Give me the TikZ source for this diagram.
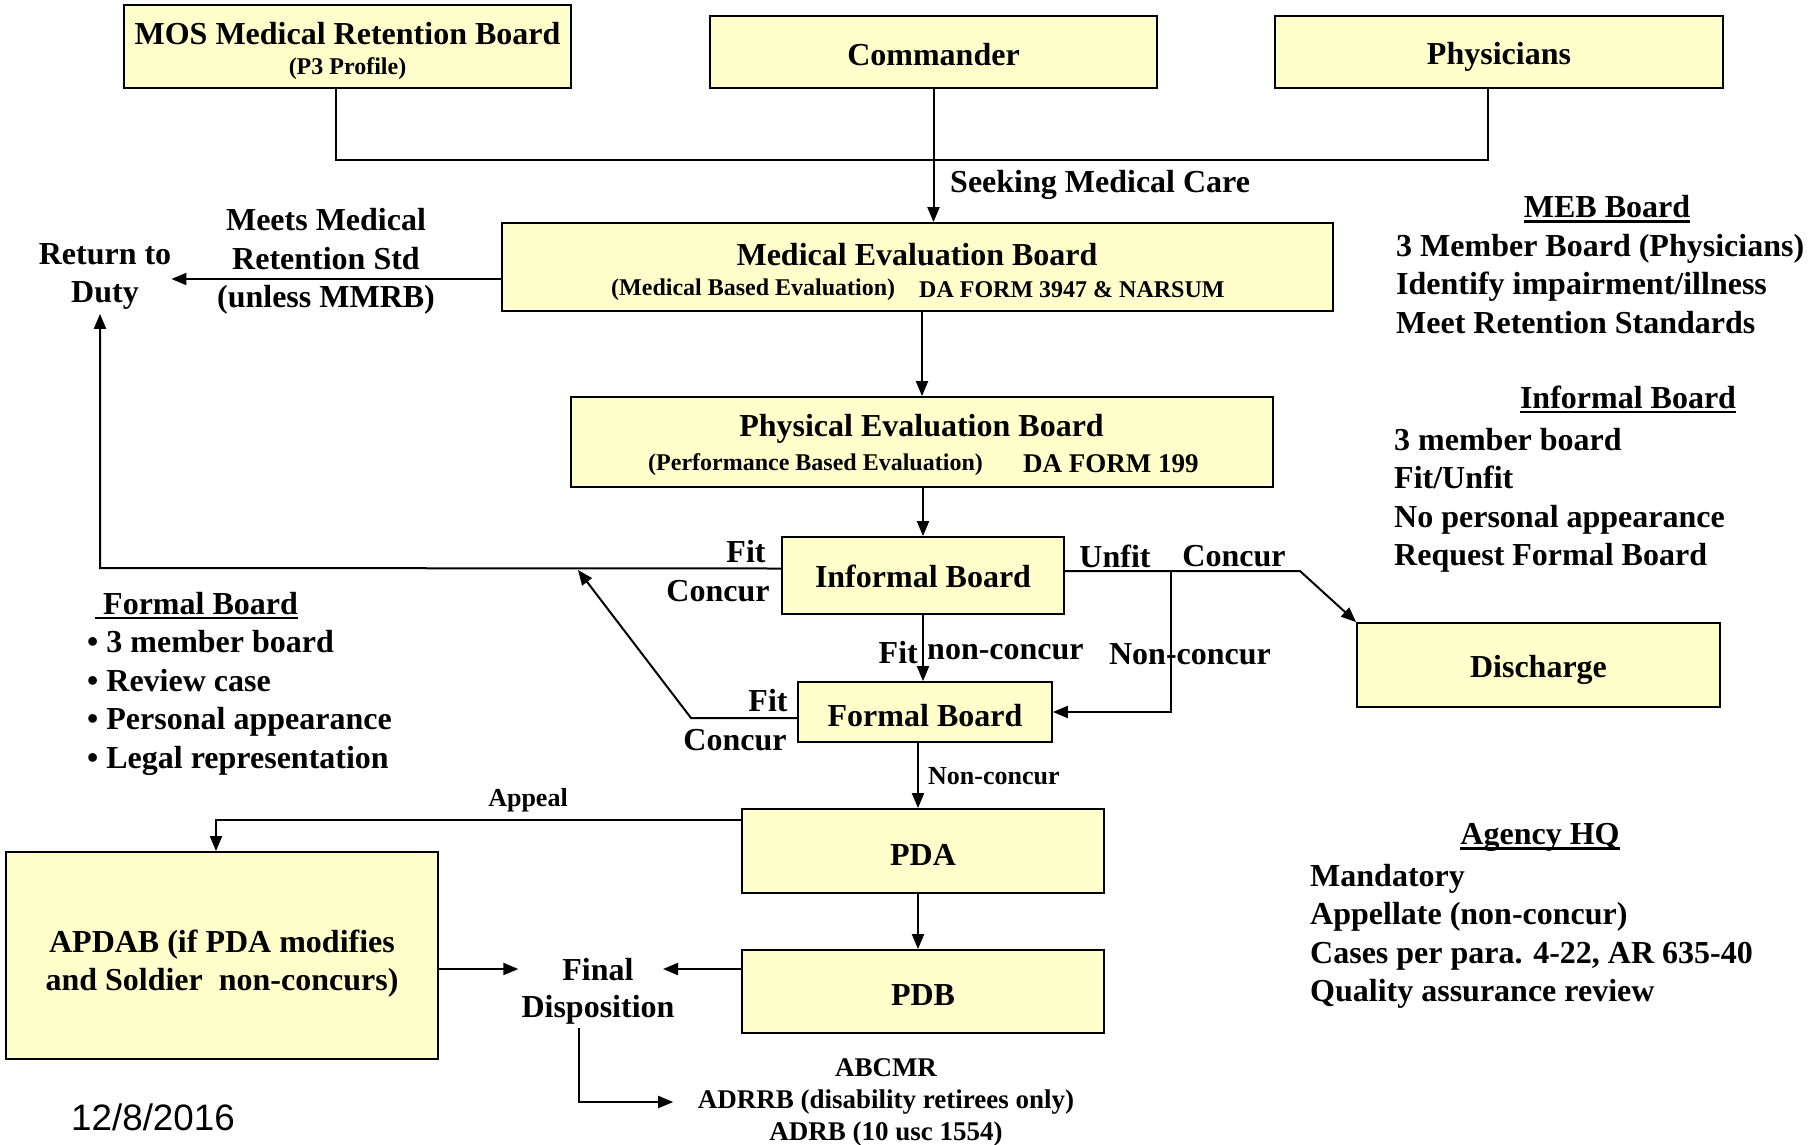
\documentclass[tikz,border=0pt]{standalone}
\usepackage{fontspec}
\setmainfont{Liberation Serif}
\setsansfont{Liberation Sans}
\usetikzlibrary{arrows.meta,calc}
\definecolor{boxy}{HTML}{FFFFCC}
\newsavebox\ulbox
\newcommand\myul[1]{\sbox\ulbox{#1}\rlap{\usebox\ulbox}\rule[-5pt]{\wd\ulbox}{2.5pt}}
\begin{document}
\begin{tikzpicture}[x=1pt,y=-1pt,
  box/.style={draw=black,line width=1.8pt,fill=boxy,inner sep=0pt},
  big/.style={font=\fontsize{32}{38.5}\selectfont\bfseries,inner sep=2pt},
  subt/.style={font=\fontsize{24}{28}\selectfont\bfseries,inner sep=1pt},
  small/.style={font=\fontsize{26}{32}\selectfont\bfseries,inner sep=2pt},
  conn/.style={line width=2pt},
  arr/.style={conn,-{Triangle[length=15pt,width=12pt]}},
]
\useasboundingbox (0,0) rectangle (1813,1144);

% boxes
\node[box,minimum width=447pt,minimum height=83pt] (mos) at (347.5,46.5) {};
\node[big,yshift=-1.2pt] (most) at (347.5,32) {MOS Medical Retention Board};
\node[subt,yshift=-2.3pt] (moss) at (347.5,66) {(P3 Profile)};
\node[box,minimum width=447pt,minimum height=72pt] (cmd) at (933.5,52) {};
\node[big,yshift=-2.3pt] (cmdt) at (cmd.center) {Commander};
\node[box,minimum width=448pt,minimum height=72pt] (phy) at (1499,52) {};
\node[big,yshift=-4.6pt] (phyt) at (phy.center) {Physicians};

\node[box,minimum width=831pt,minimum height=88pt] (meb) at (917.5,267) {};
\node[big,yshift=-1.2pt] (mebt) at (917,253) {Medical Evaluation Board};
\node[subt,anchor=west,yshift=-2.3pt] (mebs1) at (610,287) {(Medical Based Evaluation)};
\node[subt,anchor=west,yshift=-2.3pt] (mebs2) at (918,287) {DA FORM 3947 \& NARSUM};

\node[box,minimum width=702pt,minimum height=90pt] (peb) at (922,442) {};
\node[big,yshift=-2.3pt] (pebt) at (921.5,427) {Physical Evaluation Board};
\node[subt,anchor=west,yshift=-3.5pt] (pebs1) at (647,461) {(Performance Based Evaluation)};
\node[subt,anchor=west,yshift=-2.5pt,font=\fontsize{27}{30}\selectfont\bfseries] (pebs2) at (1022,461) {DA FORM 199};

\node[box,minimum width=282pt,minimum height=77pt] (inf) at (923,575.5) {};
\node[big,yshift=-1.2pt] (inft) at (inf.center) {Informal Board};
\node[box,minimum width=363pt,minimum height=84pt] (dis) at (1538.5,665) {};
\node[big,yshift=-4.6pt] (dist) at (dis.center) {Discharge};
\node[box,minimum width=254pt,minimum height=60pt] (fb) at (925,712) {};
\node[big,yshift=-3.5pt] (fbt) at (fb.center) {Formal Board};
\node[box,minimum width=362pt,minimum height=84pt] (pda) at (923,851) {};
\node[big,yshift=-3.5pt] (pdat) at (pda.center) {PDA};
\node[box,minimum width=362pt,minimum height=83pt] (pdb) at (923,991.5) {};
\node[big,yshift=-3.5pt] (pdbt) at (pdb.center) {PDB};
\node[box,minimum width=432pt,minimum height=207pt] (apdab) at (222,955.5) {};
\node[big,align=center,yshift=-8pt] (apdabt) at (apdab.center)
  {APDAB (if PDA modifies\\and Soldier~ non-concurs)};

% free text nodes
\node[big,align=center,inner xsep=0pt,inner ysep=4pt,yshift=-3.5pt] (rtd) at (105,273) {Return to\\Duty};
\node[big,align=center,yshift=-3.5pt] (meets) at (326,258) {Meets Medical\\Retention Std\\(unless MMRB)};
\node[big,anchor=west,yshift=-2.3pt] (seek) at (948,183) {Seeking Medical Care};
\node[big,align=center,inner sep=3pt,yshift=-3.5pt] (fd) at (598,988) {Final\\[-1.5pt]Disposition};
\node[small,align=center,inner xsep=24.5pt,yshift=-4pt,font=\fontsize{27}{32}\selectfont\bfseries] (abc) at (886,1098) {ABCMR\\ADRRB (disability retirees only)\\ADRB (10 usc 1554)};

\node[big] (fit1) at (746,552) {Fit};
\node[big] (con1) at (718,591) {Concur};
\node[big] (fit2) at (768,701) {Fit};
\node[big,yshift=-1.2pt] (con2) at (735,739) {Concur};
\node[big] (unfit) at (1115,556) {Unfit};
\node[big] (con3) at (1234,556) {Concur};
\node[big,anchor=east,yshift=-2.3pt] (fit3) at (920,650) {Fit};
\node[big,anchor=west,yshift=-2.3pt] (nc1) at (925,650) {non-concur};
\node[big,yshift=-1.2pt] (nc2) at (1190,653) {Non-concur};
\node[small,anchor=west,yshift=-1.2pt] (nc3) at (926,775) {Non-concur};
\node[small,yshift=-2.3pt] (appeal) at (528,798) {Appeal};

% side notes
\node[big,yshift=-2.3pt] (mebh) at (1607,207) {\myul{MEB Board}};
\node[big,anchor=west,align=left] (mebl) at (1394,284)
  {3 Member Board (Physicians)\\Identify impairment/illness\\Meet Retention Standards};
\node[big,yshift=-2.3pt] (infh) at (1628,397) {\myul{Informal Board}};
\node[big,anchor=west,align=left,yshift=-3.5pt] (infl) at (1392,497)
  {3 member board\\Fit/Unfit\\No personal appearance\\Request Formal Board};
\node[big,anchor=west,yshift=-3.5pt] (fbh) at (93,602) {\myul{\ Formal Board}};
\node[big,anchor=west,align=left,yshift=-3.5pt] (fbl) at (85,699.5)
  {\textbullet\ 3 member board\\\textbullet\ Review case\\\textbullet\ Personal appearance\\\textbullet\ Legal representation};
\node[big,yshift=-3.5pt] (agh) at (1540,834) {\myul{Agency HQ}};
\node[big,anchor=west,align=left,yshift=-3.5pt] (agl) at (1308,933)
  {Mandatory\\Appellate (non-concur)\\Cases per para. 4-22, AR 635-40\\Quality assurance review};
\node[font=\fontsize{36.8}{42}\selectfont\sffamily] (date) at (153,1117) {12/8/2016};

% connectors
\coordinate (mosS) at ([xshift=-11.5pt]mos.south);
\coordinate (phyS) at ([xshift=-11pt]phy.south);
\coordinate (busL) at (mosS |- 0,160);
\draw[conn] (mosS) -- (busL) -- (busL -| phyS) -- (phyS);
\draw[arr] (cmd.south) -- (cmd.south |- meb.north);

\draw[arr] ([yshift=-12pt]meb.west) coordinate (mW) -- (mW -| rtd.east);
\draw[arr] (peb.north |- meb.south) -- (peb.north);
\draw[arr] (inf.north |- peb.south) -- (inf.north);

\coordinate (rtdL) at (100,568);
\draw[arr] ([yshift=7pt]inf.west) -- (rtdL) -- (rtdL |- rtd.south);
\coordinate (ff) at (691,718);
\coordinate (fitpt) at (578,570);
\draw[arr] ([yshift=-6pt]fb.west) -- (ff) -- (fitpt);

\draw[arr] (inf.south) -- (inf.south |- fb.north);
\coordinate (u1) at (1300,571);
\coordinate (b1) at (1171,571);
\draw[arr] ([yshift=4.5pt]inf.east) -- (u1) -- (dis.north west);
\draw[arr] (b1) -- (b1 |- fb.east) -- (fb.east);

\coordinate (pdaN) at ([xshift=-5pt]pda.north);
\coordinate (pdbN) at ([xshift=-5pt]pdb.north);
\draw[arr] (fb.south -| pdaN) -- (pdaN);
\draw[arr] (pda.south -| pdbN) -- (pdbN);

\coordinate (apA) at ([xshift=-6pt]apdab.north);
\draw[arr] ([yshift=31pt]pda.west) -| (apA);
\draw[arr] ([yshift=-13.5pt]apdab.east) coordinate (aE) -- (aE -| fd.west);
\coordinate (fdR) at (663,969);
\draw[arr] ([yshift=22.5pt]pdb.west) -- (fdR);
\draw[arr] ([xshift=-19pt]fd.south) |- (abc.west);
\end{tikzpicture}
\end{document}
